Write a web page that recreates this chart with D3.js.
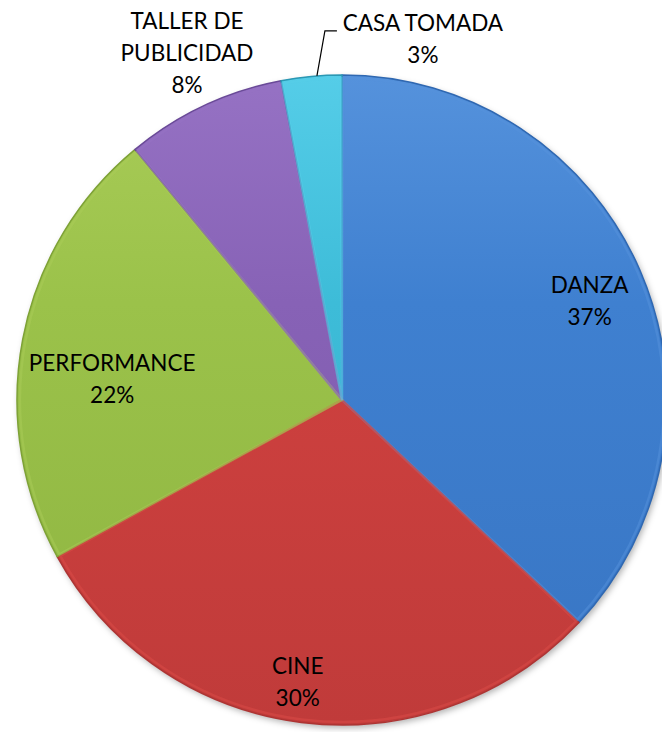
<!DOCTYPE html>
<html>
<head>
<meta charset="utf-8">
<script src="https://cdn.jsdelivr.net/npm/d3@7"></script>
<style>
  html, body { margin: 0; padding: 0; background: #fff; }
  svg { display: block; }
  .lbl { font-family: Lato, "Open Sans", sans-serif; font-size: 22.5px; fill: #000; }
</style>
</head>
<body>
<svg id="chart" width="662" height="732"></svg>
<script>
// Activities and their share of participants (percent)
const categories = ["DANZA", "CINE", "PERFORMANCE", "TALLER DE PUBLICIDAD", "CASA TOMADA"];
const values = [37, 30, 22, 8, 3];
const labelLines = [["DANZA"], ["CINE"], ["PERFORMANCE"], ["TALLER DE", "PUBLICIDAD"], ["CASA TOMADA"]];

// Slice colours: [light, base, dark]
const palette = [
  ["#5592dc", "#3f80d0", "#2f68b2"],
  ["#dc4c48", "#cf413f", "#ad3433"],
  ["#a9cc58", "#9bc24a", "#7ea236"],
  ["#9672c4", "#8762b6", "#6a4a98"],
  ["#55cde8", "#3dbcd8", "#2a98b4"]
];

// Label placement: radius factor and angular nudge (radians) for each slice
const labelLayout = [
  { k: 0.82, da: 0.03, outside: false },
  { k: 0.88, da: 0.03, outside: false },
  { k: 0.71, da: -0.10, outside: false },
  { k: 1.17, da: 0.02, outside: false },
  { k: 0, da: 0.017, outside: true }
];

const W = 662, H = 732;
const cx = 342, cy = 400, R = 325;

const svg = d3.select("#chart");
const defs = svg.append("defs");

// Soft shadow beneath the pie
const shadow = defs.append("filter").attr("id", "shadow")
  .attr("x", "-10%").attr("y", "-10%").attr("width", "120%").attr("height", "120%");
shadow.append("feDropShadow").attr("dx", 2).attr("dy", 3).attr("stdDeviation", 3)
  .attr("flood-color", "#000").attr("flood-opacity", 0.3);

// Gentle top-to-bottom shading per slice
palette.forEach((c, i) => {
  const gr = defs.append("linearGradient").attr("id", "grad" + i)
    .attr("gradientUnits", "userSpaceOnUse")
    .attr("x1", 0).attr("y1", -R).attr("x2", 0).attr("y2", R);
  gr.append("stop").attr("offset", "0%").attr("stop-color", c[0]);
  gr.append("stop").attr("offset", "35%").attr("stop-color", c[1]);
  gr.append("stop").attr("offset", "100%").attr("stop-color", d3.interpolateRgb(c[1], c[2])(0.45));
});

const pie = d3.pie().sort(null).value(d => d.v)
  .startAngle(0).endAngle(2 * Math.PI);
const data = categories.map((c, i) => ({ name: c, v: values[i], i }));
const arcs = pie(data);

const arc = d3.arc().innerRadius(0).outerRadius(R);

const g = svg.append("g").attr("transform", `translate(${cx},${cy})`);

// Base disc with shadow
g.append("circle").attr("r", R).attr("fill", "#888").attr("filter", "url(#shadow)");

// Slices
g.selectAll("path.slice").data(arcs).join("path")
  .attr("class", "slice")
  .attr("d", arc)
  .attr("fill", d => `url(#grad${d.data.i})`)
  .attr("stroke", d => palette[d.data.i][2])
  .attr("stroke-width", 1.5)
  .attr("stroke-linejoin", "round");

// Bevel highlight just inside each slice edge
g.selectAll("path.bevel").data(arcs).join("path")
  .attr("class", "bevel")
  .attr("d", d => d3.arc().innerRadius(0).outerRadius(R - 3).padAngle(0.006)(d))
  .attr("fill", "none")
  .attr("stroke", d => palette[d.data.i][0])
  .attr("stroke-opacity", 0.5)
  .attr("stroke-width", 2.5);

// Slice labels
const fmt = v => v + "%";
const lineH = 32;

arcs.forEach((d, i) => {
  const lay = labelLayout[i];
  const lines = labelLines[i].concat([fmt(values[i])]);
  let x, y;
  if (lay.outside) {
    // Leader from the slice rim out to a label above the pie
    const mid = (d.startAngle + d.endAngle) / 2 + lay.da;
    const px = Math.sin(mid) * R, py = -Math.cos(mid) * R;
    const kx = px + 8, ky = py - 45;
    const hx = kx + 12;
    g.append("path")
      .attr("d", `M${px},${py}L${kx},${ky}L${hx},${ky}`)
      .attr("fill", "none").attr("stroke", "#000").attr("stroke-width", 1.2);
    x = hx + 86;
    y = ky - 8;
  } else {
    const mid = (d.startAngle + d.endAngle) / 2 + lay.da;
    x = Math.sin(mid) * R * lay.k;
    y = -Math.cos(mid) * R * lay.k - ((lines.length - 1) * lineH) / 2;
  }
  const t = g.append("text").attr("class", "lbl").attr("text-anchor", "middle");
  lines.forEach((ln, j) => {
    t.append("tspan").attr("x", x).attr("y", y + j * lineH).attr("dy", "0.35em").text(ln);
  });
});
</script>
</body>
</html>
